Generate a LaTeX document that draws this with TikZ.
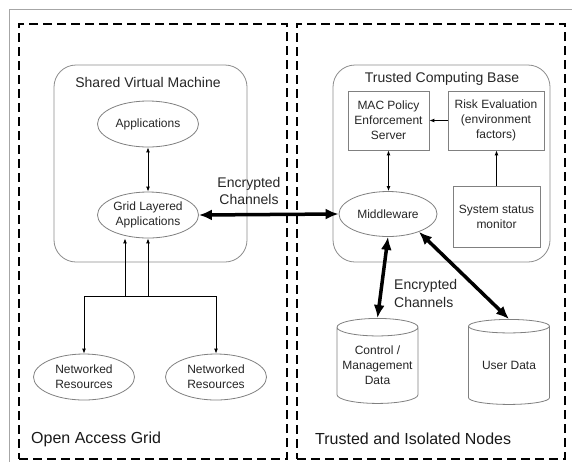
\documentclass[tikz,border=0pt]{standalone}
\usepackage{fontspec}
\setmainfont{Liberation Sans}
\usetikzlibrary{shapes.geometric,arrows.meta}
\begin{document}
\begin{tikzpicture}[x=1pt,y=-1pt,
  txt/.style={font=\fontsize{12}{15}\selectfont, text=black!85, align=center},
  ell/.style={ellipse, draw=black!50, line width=0.8pt, minimum width=101pt, minimum height=46pt, inner sep=0pt, txt},
  sbox/.style={rectangle, draw=black!50, line width=0.8pt, inner sep=0pt, txt},
  rbox/.style={draw=black!45, line width=0.8pt, rounded corners=22pt, inner sep=0pt},
  region/.style={draw=black, line width=1.8pt, dash pattern=on 9pt off 5pt, inner sep=0pt},
  cyl/.style={cylinder, shape border rotate=90, aspect=0.25, draw=black!50, line width=0.8pt, minimum width=81pt, minimum height=85pt, inner sep=0pt, txt},
  title/.style={font=\fontsize{14}{17}\selectfont, text=black!85, inner sep=0pt},
  big/.style={font=\fontsize{16}{19}\selectfont, text=black!90, inner sep=0pt},
  tarrow/.style={line width=0.9pt, -{Latex[length=5pt,width=4pt]}},
  tdarrow/.style={line width=0.9pt, {Latex[length=5pt,width=4pt]}-{Latex[length=5pt,width=4pt]}},
  bigarrow/.style={line width=3.5pt, {Latex[length=13pt,width=11pt]}-{Latex[length=13pt,width=11pt]}}
]
\useasboundingbox (0,0) rectangle (572,467);
\fill[white] (0,0) rectangle (572,467);
\draw[black!35, line width=0.8pt] (572,9) -- (9,9) -- (9,462);

% regions
\node[region, minimum width=268pt, minimum height=435pt] (left) at (153,241.5) {};
\node[region, minimum width=268pt, minimum height=435pt] (right) at (431,241.5) {};

% containers
\node[rbox, minimum width=193pt, minimum height=197pt] (svm) at (150.5,163.5) {};
\node[title, anchor=base] (svmt) at (148,87) {Shared Virtual Machine};
\node[rbox, minimum width=217pt, minimum height=197pt] (tcb) at (441.5,163.5) {};
\node[title, anchor=base] (tcbt) at (442,82) {Trusted Computing Base};

% left nodes
\node[ell] (apps) at (148,124) {Applications};
\node[ell] (grid) at (148,215) {Grid Layered\\Applications};
\node[ell] (nr1) at (84,377) {Networked\\Resources};
\node[ell] (nr2) at (216,377) {Networked\\Resources};

% right nodes
\node[sbox, minimum width=81pt, minimum height=59pt] (mac) at (388.5,120.5) {MAC Policy\\Enforcement\\Server};
\node[sbox, minimum width=96pt, minimum height=59pt] (risk) at (496,120.5) {Risk Evaluation\\(environment\\factors)};
\node[ell, minimum width=98pt, minimum height=45pt] (mw) at (388,214) {Middleware};
\node[sbox, minimum width=87pt, minimum height=61pt] (ssm) at (496.5,216.5) {System status\\monitor};
\node[cyl] (ctrl) at (377.5,365.5) {Control /\\Management\\Data};
\node[cyl] (user) at (509,365.5) {User Data};

% thin connectors
\draw[tdarrow] (apps) -- (grid);
\coordinate (j1) at (125,296);
\coordinate (j2) at (148,296);
\draw[line width=0.9pt] (j1) -- (j2);
\draw[tarrow] (j1) -| (nr1.north);
\draw[tarrow] (j2) -| (nr2.north);
\draw[tarrow] (j1) -- (j1 |- grid.south);
\draw[tarrow] (j2) -- (grid.south);
\draw[tdarrow] (mac) -- (mac |- mw.north);
\draw[tarrow] (risk.west) -- (mac.east);
\draw[tarrow] (ssm.north) -- (ssm.north |- risk.south);

% thick connectors
\draw[bigarrow] (grid.east) -- (mw.west);
\draw[bigarrow] (mw.south) -- (ctrl.north);
\draw[bigarrow] (mw.-30) -- (user.north);

% labels
\node[title, align=center] (ec1) at (249,191) {Encrypted\\Channels};
\node[title, align=left, anchor=west, font=\fontsize{14}{18}\selectfont] (ec2) at (394,293) {Encrypted\\Channels};
\node[big, anchor=base west] (oag) at (31,443) {Open Access Grid};
\node[big, anchor=base west] (tin) at (315,444) {Trusted and Isolated Nodes};
\end{tikzpicture}
\end{document}
